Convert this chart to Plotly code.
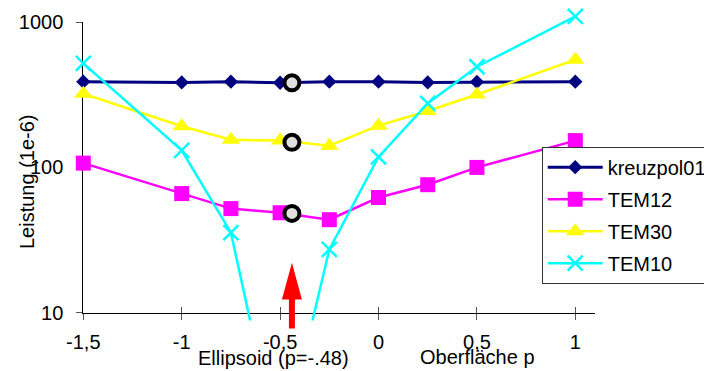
import math
import plotly.graph_objects as go

# ---------------- data ----------------
x_vals = [-1.5, -1, -0.75, -0.5, -0.25, 0, 0.25, 0.5, 1]
kreuzpol01 = [390, 385, 390, 383, 390, 390, 385, 388, 390]
tem12 = [107, 66, 52, 48.7, 43.6, 62, 76, 100, 153]
tem30 = [322, 192, 155, 153, 141, 194, 245, 318, 552]
tem10 = [521, 131, 35.5, 1.0, 27.2, 118, 276, 494, 1100]

circle_x = [-0.44, -0.44, -0.44]
circle_y = [383, 149, 48.2]

arrow_x = -0.44
arrow_tip_y = 22

x_tickvals = [-1.5, -1, -0.5, 0, 0.5, 1]
x_ticktext = ["-1,5", "-1", "-0,5", "0", "0,5", "1"]
y_tickvals = [10, 100, 1000]
y_ticktext = ["10", "100", "1000"]

# ---------------- geometry ----------------
W, H = 704, 371
FONT = "Liberation Sans, Arial, sans-serif"
FS = 20
X_RANGE = [-1.5, 1.1]
PX_L, PX_R = 83.3, 595.0
PY10, DEC = 312.5, 145.1  # pixel of y=10, pixels per decade
Y_DATA_RANGE = [0.945, 3.06]
Y_AXIS_RANGE = [1, 3]


def py(L):
    return PY10 - (L - 1) * DEC


xdom = [PX_L / W, PX_R / W]
ydom_data = [(H - py(Y_DATA_RANGE[0])) / H, (H - py(Y_DATA_RANGE[1])) / H]
ydom_axis = [(H - py(Y_AXIS_RANGE[0])) / H, (H - py(Y_AXIS_RANGE[1])) / H]

fig = go.Figure()

# decorative axes subplot (x, y)
fig.add_trace(go.Scatter(x=[None], y=[None], xaxis="x", yaxis="y",
                         showlegend=False, hoverinfo="skip"))

common = dict(xaxis="x2", yaxis="y2", mode="lines+markers", cliponaxis=False,
              hoverinfo="skip")
fig.add_trace(go.Scatter(x=x_vals, y=kreuzpol01, name="kreuzpol01", legendgroup="a",
                         line=dict(color="#000080", width=3),
                         marker=dict(symbol="diamond", size=11, color="#000080"), **common))
fig.add_trace(go.Scatter(x=x_vals, y=tem12, name="TEM12", legendgroup="b",
                         line=dict(color="#FF00FF", width=2.5),
                         marker=dict(symbol="square", size=15, color="#FF00FF"), **common))
fig.add_trace(go.Scatter(x=x_vals, y=tem30, name="TEM30", legendgroup="c",
                         line=dict(color="#FFFF00", width=2.5),
                         marker=dict(symbol="triangle-up", size=16, color="#FFFF00"), **common))
fig.add_trace(go.Scatter(x=x_vals, y=tem10, name="TEM10", legendgroup="d",
                         line=dict(color="#00FFFF", width=2.5),
                         marker=dict(symbol="x-thin", size=15, color="#00FFFF",
                                     line=dict(color="#00FFFF", width=2.5)), **common))
fig.add_trace(go.Scatter(x=circle_x, y=circle_y, xaxis="x2", yaxis="y2", mode="markers",
                         cliponaxis=False, showlegend=False, hoverinfo="skip",
                         marker=dict(symbol="circle", size=15, color="#E0E0E0",
                                     line=dict(color="black", width=4))))

# red arrow
ax_frac = xdom[0] + (arrow_x - X_RANGE[0]) / (X_RANGE[1] - X_RANGE[0]) * (xdom[1] - xdom[0])
ay_frac = (H - py(math.log10(arrow_tip_y))) / H
fig.add_shape(type="path", xref="paper", yref="paper", xsizemode="pixel", ysizemode="pixel",
              xanchor=ax_frac, yanchor=ay_frac,
              path="M0,0 L10,-36.6 L3,-36.6 L3,-65.6 L-3,-65.6 L-3,-36.6 L-10,-36.6 Z",
              fillcolor="#FF0000", line=dict(width=0), layer="above")

fig.update_layout(
    width=W, height=H,
    margin=dict(l=0, r=0, t=0, b=0, autoexpand=False),
    paper_bgcolor="white", plot_bgcolor="rgba(0,0,0,0)",
    font=dict(family=FONT, size=FS, color="black"),
    showlegend=True,
    legend=dict(x=541.7 / W, y=(H - 146.7) / H, xanchor="left", yanchor="top",
                bgcolor="white", bordercolor="#333333", borderwidth=1,
                font=dict(family=FONT, size=FS, color="black"),
                tracegroupgap=3, itemwidth=55),
    xaxis=dict(domain=xdom, range=X_RANGE, anchor="y", showline=True, linecolor="black",
               linewidth=1, ticks="outside", ticklen=6, tickwidth=1, tickcolor="#555555",
               tickvals=x_tickvals, ticktext=x_ticktext, showgrid=False, zeroline=False,
               ticklabelstandoff=5,
               tickfont=dict(family=FONT, size=FS, color="black")),
    yaxis=dict(domain=ydom_axis, type="log", range=Y_AXIS_RANGE, anchor="x", showline=True,
               linecolor="black", linewidth=1, ticks="outside", ticklen=6, tickwidth=1,
               tickcolor="#555555", tickvals=y_tickvals, ticktext=y_ticktext,
               showgrid=False, zeroline=False, ticklabelstandoff=9,
               tickfont=dict(family=FONT, size=FS, color="black")),
    xaxis2=dict(domain=xdom, range=X_RANGE, anchor="free", position=ydom_axis[0],
                showline=False, ticks="inside", ticklen=6, tickwidth=1, tickcolor="#555555",
                tickvals=x_tickvals, showticklabels=False, showgrid=False, zeroline=False),
    yaxis2=dict(domain=ydom_data, type="log", range=Y_DATA_RANGE, anchor="x2",
                visible=False, showgrid=False, zeroline=False),
    annotations=[
        dict(text="Leistung (1e-6)", x=27 / W, y=(H - 182) / H, xref="paper", yref="paper",
             textangle=-90, showarrow=False, xanchor="center", yanchor="middle",
             font=dict(family=FONT, size=FS, color="black")),
        dict(text="Ellipsoid (p=-.48)", x=273 / W, y=(H - 358) / H, xref="paper",
             yref="paper", showarrow=False, xanchor="center", yanchor="middle",
             font=dict(family=FONT, size=FS, color="black")),
        dict(text="Oberfläche p", x=477.5 / W, y=(H - 357) / H, xref="paper",
             yref="paper", showarrow=False, xanchor="center", yanchor="middle",
             font=dict(family=FONT, size=FS, color="black")),
    ],
)

fig.write_html("out.html")
